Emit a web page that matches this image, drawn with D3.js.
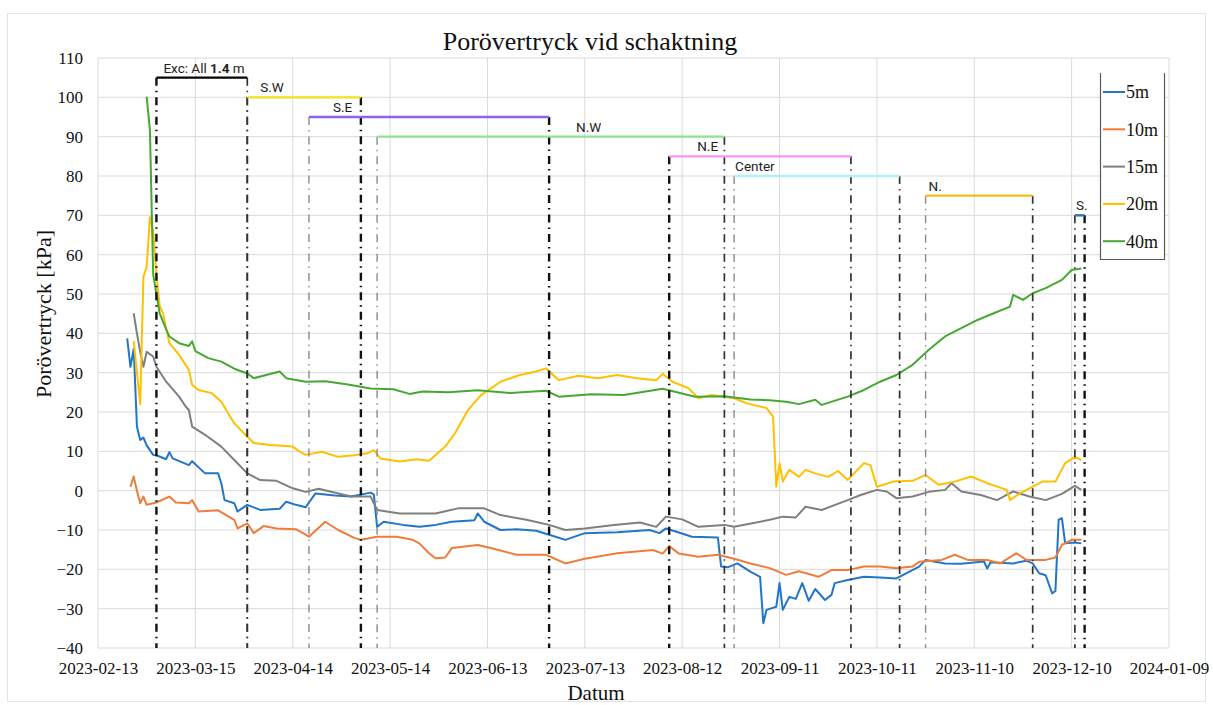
<!DOCTYPE html>
<html>
<head>
<meta charset="utf-8">
<script src="https://cdn.jsdelivr.net/npm/d3@7"></script>
<style>
  body { margin: 0; background: #fff; }
  svg { display: block; }
</style>
</head>
<body>
<div id="chart"></div>
<script>
// ---- data ----
const seriesNames = ["5m", "10m", "15m", "20m", "40m"];

const s5m = [
  ["02-22", 38.7], ["02-23", 31.5], ["02-24", 36], ["02-25", 16.3], ["02-26", 12.9], ["02-27", 13.5],
  ["02-28", 11.5], ["03-02", 9.1], ["03-03", 9.0], ["03-06", 8.0], ["03-07", 9.8], ["03-08", 8.2],
  ["03-13", 6.5], ["03-14", 7.5], ["03-18", 4.4], ["03-22", 4.4], ["03-23", 1.9], ["03-24", -2.4],
  ["03-27", -3.2], ["03-28", -5.3], ["03-31", -3.6], ["04-04", -4.9], ["04-10", -4.6], ["04-12", -2.8],
  ["04-15", -3.6], ["04-18", -4.2], ["04-21", -0.7], ["04-27", -1.2], ["05-02", -1.5], ["05-08", -0.5],
  ["05-09", -1.0], ["05-10", -9.2], ["05-12", -7.9], ["05-18", -8.7], ["05-23", -9.2], ["05-28", -8.7],
  ["06-02", -7.9], ["06-09", -7.5], ["06-10", -5.8], ["06-12", -7.9], ["06-17", -10], ["06-22", -9.8],
  ["06-28", -10.2], ["07-04", -11.7], ["07-07", -12.5], ["07-13", -10.8], ["07-23", -10.6], ["08-02", -10.0],
  ["08-05", -10.8], ["08-07", -9.6], ["08-10", -10.4], ["08-15", -11.7], ["08-23", -11.9], ["08-24", -19.3],
  ["08-26", -19.5], ["08-29", -18.5], ["09-02", -20.6], ["09-05", -21.9], ["09-06", -33.7], ["09-07", -30.3],
  ["09-10", -29.5], ["09-11", -23.5], ["09-12", -30.3], ["09-14", -27], ["09-16", -27.5], ["09-18", -23.5],
  ["09-20", -28], ["09-22", -25], ["09-25", -27.8], ["09-27", -26.5], ["09-28", -23.5], ["10-02", -22.7],
  ["10-07", -21.9], ["10-12", -22.1], ["10-17", -22.3], ["10-20", -21.0], ["10-24", -19.3], ["10-26", -17.6],
  ["11-01", -18.5], ["11-06", -18.6], ["11-13", -18.0], ["11-14", -19.8], ["11-15", -18.2], ["11-22", -18.5],
  ["11-26", -17.8], ["11-28", -18.5], ["11-30", -21], ["12-02", -21.5], ["12-04", -26.1], ["12-05", -25.5],
  ["12-06", -7.4], ["12-07", -7.0], ["12-08", -13.4], ["12-11", -13.2], ["12-13", -13.4]
];

const s10m = [
  ["02-23", 1.0], ["02-24", 3.6], ["02-25", 0], ["02-26", -3.2], ["02-27", -1.5], ["02-28", -3.6],
  ["03-03", -3.0], ["03-07", -1.5], ["03-09", -3.0], ["03-13", -3.2], ["03-14", -2.4], ["03-16", -5.3],
  ["03-22", -5.0], ["03-27", -7.4], ["03-28", -9.6], ["03-31", -8.3], ["04-02", -10.8], ["04-05", -9.0],
  ["04-09", -9.6], ["04-15", -9.8], ["04-19", -11.7], ["04-24", -7.9], ["04-28", -10.0], ["05-03", -12.0],
  ["05-05", -12.5], ["05-10", -11.7], ["05-16", -11.7], ["05-21", -12.5], ["05-23", -13.4], ["05-26", -15.9],
  ["05-28", -17.2], ["05-31", -17.0], ["06-02", -14.6], ["06-10", -13.8], ["06-14", -14.6], ["06-22", -16.3],
  ["07-01", -16.3], ["07-07", -18.5], ["07-13", -17.3], ["07-23", -15.9], ["08-03", -15.1], ["08-06", -16],
  ["08-08", -14.1], ["08-11", -16], ["08-17", -16.8], ["08-23", -16.3], ["08-28", -17.3], ["09-02", -18.5],
  ["09-08", -19.7], ["09-13", -21.4], ["09-17", -20.5], ["09-23", -21.9], ["09-27", -20.2], ["10-02", -20.2],
  ["10-07", -19.3], ["10-12", -19.3], ["10-17", -19.7], ["10-22", -19.3], ["10-24", -18.1], ["10-31", -17.6],
  ["11-04", -16.3], ["11-08", -17.6], ["11-14", -17.6], ["11-18", -18.5], ["11-23", -15.9], ["11-26", -17.6],
  ["12-02", -17.6], ["12-05", -17.0], ["12-07", -13.8], ["12-10", -12.5], ["12-13", -12.5]
];

const s15m = [
  ["02-24", 45.1], ["02-25", 40], ["02-26", 35.3], ["02-27", 31.5], ["02-28", 35.3], ["03-02", 34.1],
  ["03-03", 31.5], ["03-06", 27.7], ["03-10", 23.9], ["03-12", 21.4], ["03-13", 20.5], ["03-14", 16.3],
  ["03-18", 14.2], ["03-23", 11.2], ["03-27", 7.8], ["03-31", 4.4], ["04-04", 2.7], ["04-09", 2.5],
  ["04-14", 0.6], ["04-18", -0.3], ["04-22", 0.5], ["05-02", -1.5], ["05-08", -1.5], ["05-10", -4.9],
  ["05-17", -5.8], ["05-28", -5.8], ["06-04", -4.5], ["06-12", -4.5], ["06-17", -6.2], ["06-25", -7.4],
  ["07-02", -8.7], ["07-07", -10], ["07-13", -9.6], ["07-22", -8.7], ["07-30", -8.1], ["08-04", -9.2],
  ["08-07", -6.6], ["08-12", -7.3], ["08-17", -9.2], ["08-25", -8.7], ["08-28", -9.2], ["09-08", -7.4],
  ["09-12", -6.6], ["09-16", -6.8], ["09-19", -4.1], ["09-24", -4.9], ["10-02", -2.4], ["10-06", -1.1],
  ["10-11", 0.2], ["10-14", -0.2], ["10-17", -1.9], ["10-22", -1.5], ["10-27", -0.3], ["11-01", 0.2],
  ["11-03", 1.9], ["11-06", -0.2], ["11-12", -1.1], ["11-17", -2.4], ["11-22", -0.2], ["11-27", -1.5],
  ["12-02", -2.4], ["12-07", -0.8], ["12-11", 1.2], ["12-13", 0.2]
];

const s20m = [
  ["02-24", 38], ["02-25", 30], ["02-26", 22], ["02-27", 54.4], ["02-28", 57], ["03-01", 69.5],
  ["03-02", 66], ["03-03", 55], ["03-04", 47], ["03-05", 45.2], ["03-07", 37.5], ["03-10", 34.5],
  ["03-13", 30.7], ["03-14", 26.9], ["03-16", 25.6], ["03-20", 24.8], ["03-23", 22.6], ["03-27", 17.1],
  ["03-31", 13.7], ["04-02", 12.1], ["04-07", 11.6], ["04-14", 11.2], ["04-16", 10.0], ["04-18", 9.1],
  ["04-23", 9.9], ["04-28", 8.6], ["05-03", 9.0], ["05-07", 9.5], ["05-09", 10.3], ["05-11", 8.2],
  ["05-17", 7.4], ["05-22", 8.0], ["05-26", 7.6], ["05-31", 11.2], ["06-03", 14.6], ["06-07", 20.5],
  ["06-11", 24.3], ["06-17", 27.7], ["06-23", 29.4], ["06-28", 30.3], ["07-01", 31.1], ["07-05", 28.1],
  ["07-11", 29.2], ["07-17", 28.6], ["07-23", 29.4], ["07-29", 28.6], ["08-04", 28.1], ["08-06", 29.7],
  ["08-09", 27.7], ["08-14", 26.0], ["08-17", 23.5], ["08-21", 24.3], ["08-28", 23.5], ["09-01", 22.2],
  ["09-07", 21.0], ["09-09", 18.8], ["09-10", 1.0], ["09-11", 7.0], ["09-12", 2.3], ["09-14", 5.3],
  ["09-17", 3.5], ["09-19", 5.3], ["09-22", 4.4], ["09-26", 3.5], ["09-29", 5.0], ["10-02", 2.7],
  ["10-07", 7.0], ["10-09", 6.5], ["10-11", 1.0], ["10-16", 2.3], ["10-22", 2.5], ["10-26", 4.0],
  ["10-30", 1.5], ["11-04", 2.3], ["11-09", 3.6], ["11-14", 1.9], ["11-20", 0.2], ["11-21", -2.4],
  ["11-24", -0.7], ["11-28", 1.0], ["12-01", 2.3], ["12-05", 2.3], ["12-08", 7.0], ["12-11", 8.6],
  ["12-13", 7.8]
];

const s40m = [
  ["02-28", 100.2], ["03-01", 91.7], ["03-02", 55], ["03-03", 50], ["03-04", 45.1], ["03-06", 41.0],
  ["03-07", 39.2], ["03-10", 37.5], ["03-13", 36.8], ["03-14", 38.0], ["03-15", 35.5], ["03-19", 33.7],
  ["03-23", 32.8], ["03-27", 31.0], ["03-31", 29.8], ["04-02", 28.6], ["04-10", 30.3], ["04-12", 28.6],
  ["04-18", 27.7], ["04-24", 27.8], ["05-01", 27.0], ["05-08", 26.0], ["05-15", 25.8], ["05-20", 24.6],
  ["05-24", 25.2], ["06-01", 25.0], ["06-10", 25.5], ["06-20", 24.8], ["07-01", 25.4], ["07-05", 23.9],
  ["07-15", 24.5], ["07-25", 24.3], ["08-06", 25.9], ["08-16", 23.9], ["08-25", 24.0], ["09-02", 23.2],
  ["09-08", 23.0], ["09-13", 22.6], ["09-17", 22.0], ["09-22", 23.1], ["09-24", 21.8], ["10-02", 23.9],
  ["10-07", 25.6], ["10-12", 27.7], ["10-17", 29.4], ["10-22", 32.0], ["10-27", 35.8], ["11-01", 39.2],
  ["11-06", 41.3], ["11-11", 43.4], ["11-16", 45.1], ["11-21", 46.8], ["11-22", 49.8], ["11-25", 48.5],
  ["11-28", 50.2], ["12-02", 51.5], ["12-07", 53.6], ["12-10", 56.1], ["12-13", 56.5]
];

const seriesValues = [s5m, s10m, s15m, s20m, s40m];

// excavation phases drawn on top of the chart
const phaseLabels = ["Exc: All 1.4 m", "S.W", "S.E", "N.W", "N.E", "Center", "N.", "S."];
const phaseStart  = ["03-03", "03-31", "04-19", "05-10", "08-08", "08-28", "10-26", "12-11"];
const phaseEnd    = ["03-31", "05-05", "07-02", "08-25", "10-03", "10-18", "11-28", "12-14"];
const phaseLevel  = [105, 100, 95, 90, 85, 80, 75, 70];

const xTickLabels = ["2023-02-13", "2023-03-15", "2023-04-14", "2023-05-14", "2023-06-13", "2023-07-13",
  "2023-08-12", "2023-09-11", "2023-10-11", "2023-11-10", "2023-12-10", "2024-01-09"];
const yTickLabels = [-40, -30, -20, -10, 0, 10, 20, 30, 40, 50, 60, 70, 80, 90, 100, 110];

// ---- styles ----
const seriesColors = ["#2176c7", "#ee7d3b", "#7f7f7f", "#ffc000", "#46a832"];
const phaseColors = ["#000000", "#f2e21a", "#8e62ee", "#8fe38f", "#f796f0", "#b0eef8", "#f7bb1e", "#2e75b6"];
// vertical line type at start / end of each phase
const phaseLines = [["thick", "mid"], ["mid", "thick"], ["thin", "thick"], ["thin", "mid"],
  ["thick", "mid"], ["thin", "mid"], ["thin", "mid"], ["mid", "thick"]];
const lineTypes = {
  thick: { color: "#111", width: 2.4 },
  mid:   { color: "#333", width: 1.7 },
  thin:  { color: "#8a8a8a", width: 1.4 }
};
const labelDx = [7, 13, 24, 199, 28, 1, 3, 1];

const serif = "'Liberation Serif', 'Times New Roman', serif";

const fullWidth = 1213;
const fullHeight = 705;
const margin = { top: 58, right: 44, bottom: 57, left: 98 };
const width = fullWidth - margin.left - margin.right;
const height = fullHeight - margin.top - margin.bottom;

const parseDay = d3.utcParse("%Y-%m-%d");
const toDate = s => parseDay("2023-" + s);

const root = d3.select("#chart").append("svg")
    .attr("width", fullWidth)
    .attr("height", fullHeight);

// outer chart border
root.append("rect")
    .attr("x", 7.5).attr("y", 13.5)
    .attr("width", 1198).attr("height", 688)
    .attr("fill", "none")
    .attr("stroke", "#e3e3e3");

const svg = root.append("g")
    .attr("transform", `translate(${margin.left},${margin.top})`);

const x = d3.scaleUtc()
    .domain([parseDay(xTickLabels[0]), parseDay(xTickLabels[xTickLabels.length - 1])])
    .range([0, width]);
const y = d3.scaleLinear().domain([-40, 110]).range([height, 0]);

// grid
svg.append("g").selectAll("line.h")
    .data(yTickLabels)
    .join("line")
    .attr("x1", 0).attr("x2", width)
    .attr("y1", d => y(d)).attr("y2", d => y(d))
    .attr("stroke", "#dadada");

svg.append("g").selectAll("line.v")
    .data(xTickLabels)
    .join("line")
    .attr("x1", d => x(parseDay(d))).attr("x2", d => x(parseDay(d)))
    .attr("y1", 0).attr("y2", height)
    .attr("stroke", "#dadada");

// axes
const xAxis = d3.axisBottom(x)
    .tickValues(xTickLabels.map(parseDay))
    .tickFormat(d3.utcFormat("%Y-%m-%d"))
    .tickSize(0)
    .tickPadding(14);

const yAxis = d3.axisLeft(y)
    .tickValues(yTickLabels)
    .tickSize(0)
    .tickPadding(15);

const gX = svg.append("g")
    .attr("transform", `translate(0,${height})`)
    .call(xAxis);
const gY = svg.append("g").call(yAxis);

[gX, gY].forEach(g => {
  g.select(".domain").remove();
  g.selectAll("text")
      .style("font-family", serif)
      .style("font-size", "17px")
      .style("fill", "#111");
});

// series
const line = d3.line()
    .x(d => x(toDate(d[0])))
    .y(d => y(d[1]));

svg.append("g").selectAll("path")
    .data(seriesValues)
    .join("path")
    .attr("d", line)
    .attr("fill", "none")
    .attr("stroke", (d, i) => seriesColors[i])
    .attr("stroke-width", 2)
    .attr("stroke-linejoin", "round");

// phases: bars + dash-dot verticals
const gPh = svg.append("g");
phaseLabels.forEach((label, i) => {
  const x0 = x(toDate(phaseStart[i]));
  const x1 = x(toDate(phaseEnd[i]));
  const yl = y(phaseLevel[i]);

  [[x0, phaseLines[i][0]], [x1, phaseLines[i][1]]].forEach(([xv, t]) => {
    gPh.append("line")
        .attr("x1", xv).attr("x2", xv)
        .attr("y1", yl).attr("y2", height)
        .attr("stroke", lineTypes[t].color)
        .attr("stroke-width", lineTypes[t].width)
        .attr("stroke-dasharray", "8,5,1.5,5");
  });

  gPh.append("line")
      .attr("x1", x0).attr("x2", x1)
      .attr("y1", yl).attr("y2", yl)
      .attr("stroke", phaseColors[i])
      .attr("stroke-width", 2.4);

  const txt = gPh.append("text")
      .attr("x", x0 + labelDx[i])
      .attr("y", yl - 5)
      .style("font-family", "Roboto, 'Open Sans', sans-serif")
      .style("font-size", "13.5px")
      .style("fill", "#222");
  if (i === 0) {
    txt.append("tspan").text("Exc:  All ");
    txt.append("tspan").style("font-weight", "bold").text("1.4");
    txt.append("tspan").text(" m");
  } else {
    txt.text(label);
  }
});

// legend
const legend = root.append("g");
legend.append("path")
    .attr("d", "M1100.5,73 V259.5 H1164.5 V73")
    .attr("fill", "#fff")
    .attr("stroke", "#5a5a5a")
    .attr("stroke-width", 1.2);

seriesNames.forEach((name, i) => {
  const ly = 92 + i * 37.3;
  legend.append("line")
      .attr("x1", 1103).attr("x2", 1125)
      .attr("y1", ly).attr("y2", ly)
      .attr("stroke", seriesColors[i])
      .attr("stroke-width", 2);
  legend.append("text")
      .attr("x", 1126).attr("y", ly)
      .attr("dy", "0.35em")
      .style("font-family", serif)
      .style("font-size", "18px")
      .style("fill", "#111")
      .text(name);
});

// titles
root.append("text")
    .attr("x", 590).attr("y", 50)
    .attr("text-anchor", "middle")
    .style("font-family", serif)
    .style("font-size", "26px")
    .style("fill", "#111")
    .text("Porövertryck vid schaktning");

root.append("text")
    .attr("transform", "translate(51,314) rotate(-90)")
    .attr("text-anchor", "middle")
    .style("font-family", serif)
    .style("font-size", "22px")
    .style("fill", "#111")
    .text("Porövertryck [kPa]");

root.append("text")
    .attr("x", 596).attr("y", 700)
    .attr("text-anchor", "middle")
    .style("font-family", serif)
    .style("font-size", "21px")
    .style("fill", "#111")
    .text("Datum");
</script>
</body>
</html>
